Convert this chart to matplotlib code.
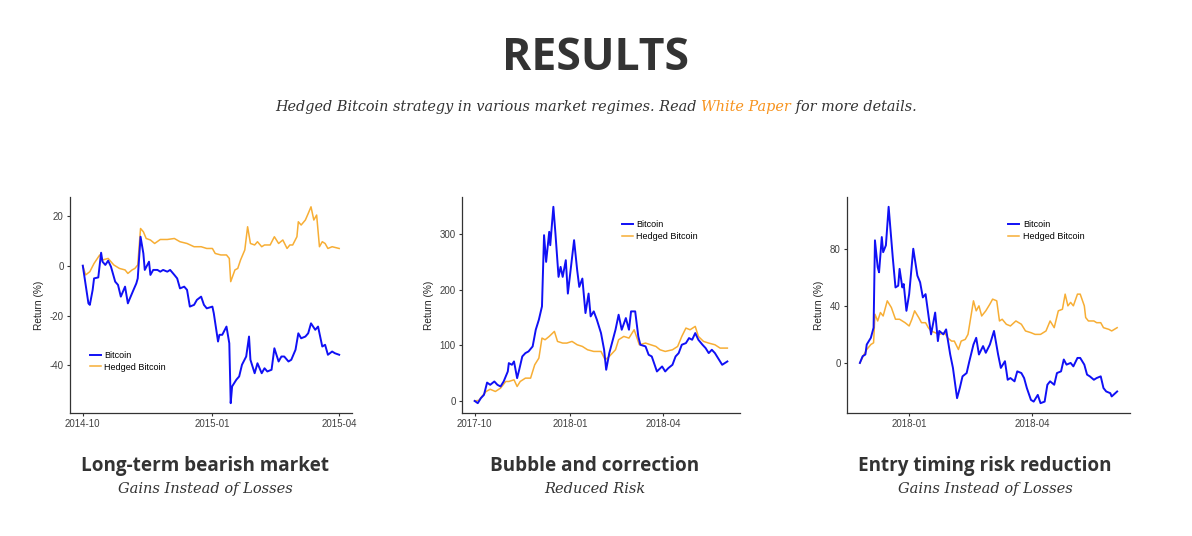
import matplotlib
matplotlib.use("Agg")
from matplotlib import pyplot as plt
import numpy as np
import pandas as pd

plt.rcParams["axes.unicode_minus"] = False

# ---- data (days since start, return in %) ----
start1 = "2014-10-01"
btc1_days = [0, 4, 5, 7, 8, 11, 13, 14, 16, 18, 20, 23, 25, 27, 30, 32, 33, 36, 38, 39,
             41, 43, 44, 47, 48, 50, 53, 55, 57, 60, 62, 65, 67, 69, 72, 74, 76, 79, 81, 84,
             86, 88, 92, 93, 96, 97, 99, 102, 104, 105, 106, 109, 111, 113, 116, 118, 119, 122, 124, 127,
             129, 131, 134, 136, 139, 141, 143, 146, 148, 151, 153, 155, 158, 160, 162, 165, 167, 170, 172, 174,
             177, 179, 182]
btc1 = [0, -15.1, -15.7, -9.7, -5.1, -4.7, 5.2, 1.6, 0.3, 2.0, -0.4, -6.4, -7.7, -12.4, -8.4, -15.1, -13.7, -9.7, -7.1, -5.1,
        11.6, 4.9, -1.7, 1.6, -3.7, -1.7, -1.7, -2.4, -1.7, -2.4, -1.7, -3.7, -5.1, -9.1, -8.4, -9.7, -16.4, -15.7, -13.7, -12.4,
        -15.7, -17.1, -16.4, -19.1, -30.4, -27.7, -27.7, -24.4, -31.1, -55.1, -48.4, -45.7, -44.4, -39.7, -36.4, -28.4, -37.7, -43.1, -39.1, -43.1,
        -41.1, -42.4, -41.7, -33.1, -38.4, -36.4, -36.4, -38.4, -37.7, -33.7, -27.1, -29.1, -28.4, -27.1, -23.1, -25.7, -24.4, -32.4, -31.7, -35.7,
        -34.4, -35.1, -35.7]
hdg1_days = [0, 2, 5, 8, 12, 14, 18, 22, 24, 26, 30, 32, 35, 37, 39, 41, 43, 45, 48, 51,
             55, 60, 65, 69, 74, 79, 84, 88, 92, 94, 98, 102, 104, 105, 108, 110, 112, 115, 117, 119,
             122, 124, 127, 129, 133, 136, 139, 142, 145, 147, 149, 152, 153, 155, 158, 160, 162, 164, 166, 168,
             170, 172, 174, 177, 182]
hdg1 = [0, -3.7, -2.4, 0.9, 4.3, 2.3, 2.9, 0.3, -0.4, -1.1, -1.7, -3.1, -1.7, -1.1, 0.3, 14.9, 13.6, 10.9, 10.3, 8.9,
        10.5, 10.5, 10.9, 9.6, 8.9, 7.6, 7.6, 6.9, 6.9, 4.9, 4.3, 4.3, 2.9, -6.4, -1.7, -1.1, 2.3, 6.3, 15.6, 8.9,
        8.3, 9.6, 7.6, 8.3, 8.3, 11.6, 8.9, 10.3, 6.9, 8.3, 8.3, 11.6, 17.6, 16.3, 18.3, 20.9, 23.6, 18.3, 20.3, 7.6,
        9.6, 8.9, 6.9, 7.6, 6.9]

start2 = "2017-10-01"
btc2_days = [0, 3, 6, 9, 12, 15, 19, 22, 25, 28, 32, 33, 36, 38, 41, 43, 46, 49, 52, 56,
             59, 62, 65, 67, 69, 72, 73, 76, 78, 81, 83, 85, 88, 90, 93, 96, 99, 101, 104, 107,
             110, 112, 115, 118, 122, 125, 127, 130, 133, 136, 139, 142, 146, 149, 151, 155, 158, 160, 165, 168,
             171, 176, 181, 184, 187, 191, 194, 197, 200, 204, 207, 210, 213, 216, 220, 223, 226, 229, 232, 236,
             239, 244]
btc2 = [0, -4, 5, 11, 33, 29, 35, 29, 26, 35, 53, 68, 65, 71, 41, 56, 80, 86, 89, 98,
        128, 146, 170, 298, 250, 304, 280, 349, 301, 223, 241, 223, 253, 193, 241, 289, 235, 205, 220, 158,
        193, 152, 161, 146, 122, 92, 56, 86, 107, 128, 155, 128, 149, 128, 161, 161, 116, 101, 98, 83,
        80, 53, 62, 53, 59, 65, 80, 86, 101, 104, 113, 110, 122, 110, 101, 95, 86, 92, 86, 74,
        65, 71]
hdg2_days = [0, 4, 7, 11, 15, 20, 25, 30, 33, 38, 41, 44, 49, 54, 58, 62, 65, 68, 72, 77,
             80, 85, 89, 94, 99, 104, 109, 115, 122, 126, 130, 133, 136, 139, 144, 149, 154, 159, 165, 170,
             175, 179, 184, 191, 196, 200, 204, 208, 213, 216, 221, 226, 232, 237, 244]
hdg2 = [0, 1, 8, 17, 21, 17, 23, 35, 35, 38, 26, 35, 41, 41, 65, 77, 113, 110, 116, 125,
        107, 104, 104, 107, 101, 98, 92, 89, 89, 74, 80, 86, 92, 110, 116, 113, 128, 101, 104, 101,
        98, 92, 89, 92, 98, 116, 131, 128, 134, 116, 107, 104, 101, 95, 95]

start3 = "2017-11-26"
btc3_days = [0, 2, 4, 5, 8, 10, 11, 13, 14, 16, 17, 19, 21, 22, 24, 26, 28, 29, 31, 32,
             34, 36, 37, 39, 42, 44, 46, 48, 50, 52, 55, 57, 58, 61, 63, 66, 68, 71, 73, 75,
             78, 80, 83, 85, 87, 90, 92, 95, 98, 101, 103, 106, 108, 110, 113, 115, 118, 120, 122, 125,
             127, 130, 132, 135, 137, 139, 142, 144, 147, 149, 151, 154, 156, 159, 161, 164, 166, 168, 171, 173,
             176, 178, 180, 183, 184, 188]
btc3 = [0, 4.7, 5.9, 12.9, 17.6, 24.7, 85.9, 67.1, 63.5, 88.2, 77.6, 82.4, 109.4, 97.6, 74.1, 52.9, 54.1, 65.9, 52.9, 55.3,
        36.5, 48.2, 58.8, 80.0, 61.2, 56.5, 45.9, 48.2, 34.1, 20.0, 35.3, 15.3, 22.4, 20.0, 23.5, 5.9, -3.5, -24.7, -17.6, -9.4,
        -7.1, 1.2, 12.9, 17.6, 5.9, 11.8, 7.1, 12.9, 22.4, 5.9, -3.5, 1.2, -11.8, -10.6, -12.9, -5.9, -7.1, -10.6, -17.6, -25.9,
        -27.1, -22.4, -28.2, -27.1, -15.3, -12.9, -15.3, -7.1, -5.9, 2.4, -1.2, 0.0, -2.4, 3.5, 3.5, -1.2, -8.2, -9.4, -11.8, -10.6,
        -9.4, -17.6, -20.0, -21.2, -23.5, -20.0]
hdg3_days = [0, 3, 5, 8, 10, 11, 13, 15, 17, 20, 23, 26, 29, 33, 36, 38, 40, 43, 45, 48,
             50, 52, 55, 58, 62, 64, 67, 69, 72, 74, 77, 79, 81, 83, 85, 87, 89, 92, 95, 97,
             100, 102, 104, 107, 110, 114, 118, 121, 125, 128, 132, 136, 139, 142, 145, 148, 150, 152, 154, 156,
             159, 161, 164, 165, 167, 171, 173, 176, 178, 182, 184, 188]
hdg3 = [0, 5.9, 9.4, 12.9, 14.1, 34.1, 29.4, 35.3, 32.9, 43.5, 38.8, 30.6, 30.6, 28.2, 25.9, 30.6, 36.5, 31.8, 28.2, 28.2,
        24.7, 22.4, 21.2, 20.0, 21.2, 17.6, 15.3, 15.3, 9.4, 15.3, 16.5, 20.0, 31.8, 43.5, 36.5, 40.0, 32.9, 36.5, 41.2, 44.7,
        43.5, 29.4, 30.6, 27.1, 25.9, 29.4, 27.1, 22.4, 21.2, 20.0, 20.0, 22.4, 29.4, 24.7, 36.5, 37.6, 48.2, 40.0, 42.4, 40.0,
        48.2, 48.2, 40.0, 31.8, 29.4, 29.4, 28.2, 28.2, 24.7, 23.5, 22.4, 24.7]

panels = [
    dict(start=start1, btc=(btc1_days, btc1), hdg=(hdg1_days, hdg1),
         xticks=["2014-10", "2015-01", "2015-04"], yticks=[-40, -20, 0, 20],
         legend=(0.07, 0.24), title="Long-term bearish market", sub="Gains Instead of Losses"),
    dict(start=start2, btc=(btc2_days, btc2), hdg=(hdg2_days, hdg2),
         xticks=["2017-10", "2018-01", "2018-04"], yticks=[0, 100, 200, 300],
         legend=(0.575, 0.845), title="Bubble and correction", sub="Reduced Risk"),
    dict(start=start3, btc=(btc3_days, btc3), hdg=(hdg3_days, hdg3),
         xticks=["2018-01", "2018-04"], yticks=[0, 40, 80],
         legend=(0.57, 0.845), title="Entry timing risk reduction", sub="Gains Instead of Losses"),
]

BLUE = "#1010f5"
ORANGE = "#f7ae35"
DARK = "#333333"
SERIF = "DejaVu Serif"
HEAD = "Open Sans"

fig = plt.figure(figsize=(11.92, 5.36), dpi=100)
fig.patch.set_facecolor("white")

boxes = [[0.0587, 0.2295, 0.2366, 0.403],
         [0.3876, 0.2295, 0.2332, 0.403],
         [0.7106, 0.2295, 0.2374, 0.403]]
caption_x = [205 / 1192, 595 / 1192, 985 / 1192]

for p, box, cx in zip(panels, boxes, caption_x):
    ax = fig.add_axes(box)
    t0 = pd.Timestamp(p["start"])
    d, v = p["hdg"]
    ax.plot(t0 + pd.to_timedelta(d, unit="D"), v, color=ORANGE, lw=1.1, label="Hedged Bitcoin")
    d, v = p["btc"]
    ax.plot(t0 + pd.to_timedelta(d, unit="D"), v, color=BLUE, lw=1.4, label="Bitcoin")
    ax.set_xticks([pd.Timestamp(t + "-01") for t in p["xticks"]])
    ax.set_xticklabels(p["xticks"])
    ax.set_yticks(p["yticks"])
    for s in ["top", "right"]:
        ax.spines[s].set_visible(False)
    for s in ["left", "bottom"]:
        ax.spines[s].set_color(DARK)
        ax.spines[s].set_linewidth(0.9)
    ax.tick_params(length=2.5, width=0.8, color=DARK, labelsize=7, labelcolor="#404040", pad=2)
    for lab in ax.get_xticklabels() + ax.get_yticklabels():
        lab.set_family("Liberation Sans")
    ax.set_ylabel("Return (%)", fontsize=7.3, family="Liberation Sans", color="#222222", labelpad=4)
    h, l = ax.get_legend_handles_labels()
    ax.legend(h[::-1], l[::-1], loc="center left", bbox_to_anchor=p["legend"], frameon=False,
              prop=dict(family="Liberation Sans", size=6.5), handlelength=1.2, handletextpad=0.4,
              labelspacing=0.3, borderpad=0, borderaxespad=0)

    fig.text(cx, 1 - 466 / 536, p["title"], ha="center", va="center", fontsize=13.6,
             family=HEAD, weight="bold", color=DARK)
    fig.text(cx, 1 - 489 / 536, p["sub"], ha="center", va="center", fontsize=10.5,
             family=SERIF, style="italic", color=DARK)

fig.text(0.5, 1 - 58 / 536, "RESULTS", ha="center", va="center", fontsize=32,
         family=HEAD, weight="bold", color=DARK)

# subtitle with coloured link text, laid out piece by piece
parts = [("Hedged Bitcoin strategy in various market regimes. Read ", DARK),
         ("White Paper", "#f7931e"),
         (" for more details.", DARK)]
ys = 1 - 107 / 536
texts = [fig.text(0, ys, s, ha="left", va="center", fontsize=10.4, family=SERIF,
                  style="italic", color=c) for s, c in parts]
fig.canvas.draw()
r = fig.canvas.get_renderer()
W = fig.bbox.width
widths = [t.get_window_extent(r).width / W for t in texts]
x = 0.5 - sum(widths) / 2
for t, w in zip(texts, widths):
    t.set_x(x)
    x += w

fig.savefig("out.png", dpi=100)
